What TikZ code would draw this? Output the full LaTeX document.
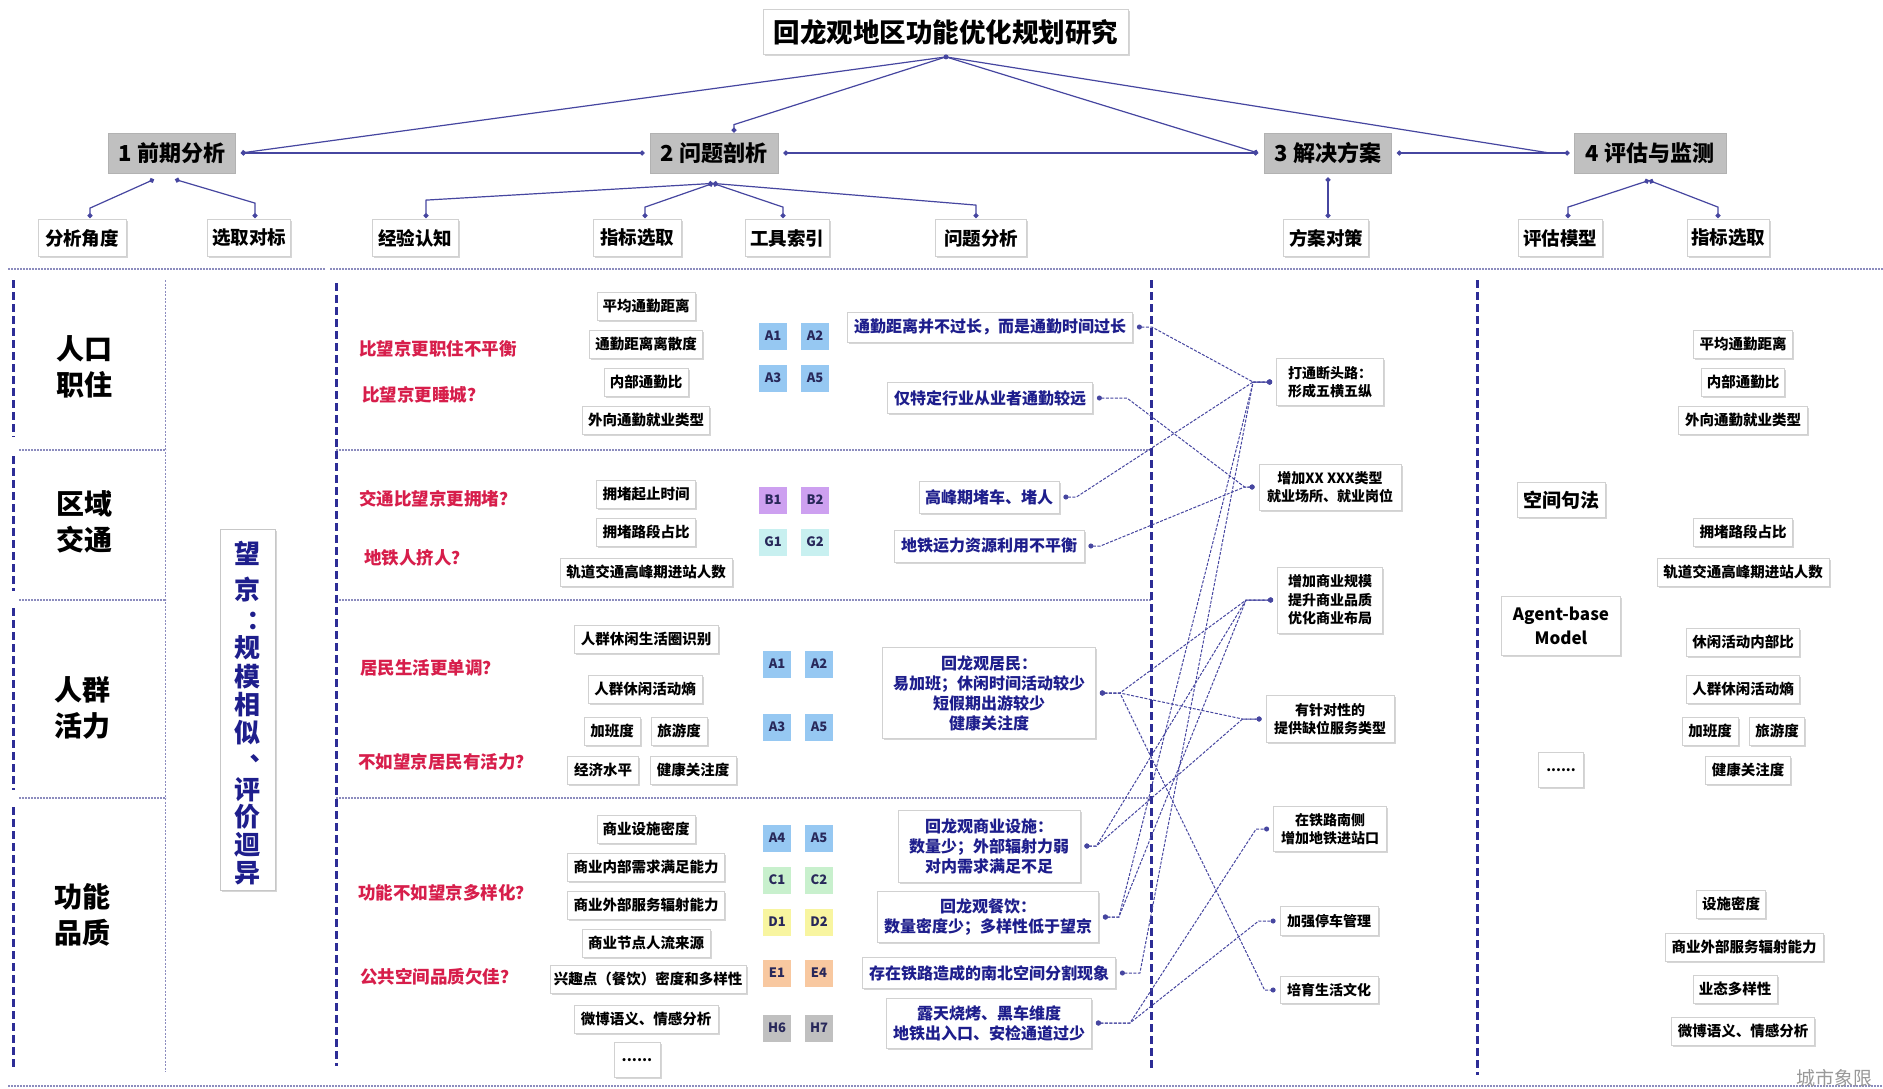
\documentclass[tikz,border=0pt]{standalone}
\usepackage{fontspec}
\setmainfont{Noto Sans CJK SC}
\usetikzlibrary{calc,arrows.meta,shadows}
\definecolor{navy}{RGB}{30,30,140}
\definecolor{tagtxt}{RGB}{40,40,90}
\definecolor{linec}{RGB}{70,70,160}
\definecolor{redq}{RGB}{215,30,75}
\definecolor{gbox}{RGB}{192,192,192}
\definecolor{bdash}{RGB}{45,45,150}
\definecolor{sepc}{RGB}{140,140,190}
\definecolor{tA}{RGB}{150,200,242}
\definecolor{tB}{RGB}{205,160,240}
\definecolor{tG}{RGB}{200,240,240}
\definecolor{tC}{RGB}{200,240,205}
\definecolor{tD}{RGB}{248,245,160}
\definecolor{tE}{RGB}{248,200,160}
\definecolor{tH}{RGB}{192,192,192}
\newcommand\fsz[2]{\fontsize{#1}{#2}\selectfont}
\tikzset{
  sh/.style={general shadow={fill=black!16, shadow xshift=1.5pt, shadow yshift=-1.5pt}},
  wbox/.style={draw=black!18, fill=white, line width=0.8pt, sh, inner sep=0pt, align=center},
  titlebox/.style={wbox, font=\bfseries\fsz{26.5}{30}, minimum width=365pt, minimum height=45pt},
  lvone/.style={draw=black!30, fill=gbox, line width=0.8pt, inner sep=0pt, font=\bfseries\fsz{22}{25}, minimum height=40pt},
  lvtwo/.style={wbox, font=\bfseries\fsz{18.5}{21}, minimum height=37pt},
  ind/.style={wbox, font=\bfseries\fsz{14.5}{17}, minimum height=28pt},
  prob/.style={wbox, text=navy, font=\bfseries\fsz{16}{20}},
  sol/.style={wbox, font=\bfseries\fsz{14}{18.5}},
  tag/.style={fill=#1, minimum width=28pt, minimum height=27pt, inner sep=0pt, font=\bfseries\fsz{13}{15}, text=tagtxt},
  rowlab/.style={font=\bfseries\fsz{28}{36}, align=center},
  redtxt/.style={anchor=west, text=redq, font=\bfseries\fsz{17.5}{20}, inner sep=0pt},
  wjc/.style={text=navy, font=\bfseries\fsz{26}{28}, inner sep=0pt},
  sepline/.style={draw=sepc, line width=1.4pt, dash pattern=on 2pt off 1pt},
  vthin/.style={draw=sepc, line width=1pt, dash pattern=on 2pt off 1.5pt},
  bigdash/.style={draw=bdash, line width=3pt, dash pattern=on 8pt off 4pt},
  topl/.style={draw=linec, line width=1.2pt},
  dots/.style={{Circle[length=5pt]}-{Circle[length=5pt]}},
  dotend/.style={-{Circle[length=5pt]}},
  conn/.style={draw=linec, line width=1pt, dash pattern=on 3pt off 1.5pt, {Circle[length=5pt]}-{Circle[length=5pt]}}
}
\begin{document}
\begin{tikzpicture}[x=1pt,y=-1pt]
\useasboundingbox (0,0) rectangle (1883,1088);
\fill[white] (0,0) rectangle (1883,1088);

% ---------- grid lines ----------
\draw[sepline] (8,269) -- (325,269);
\draw[sepline] (330,269) -- (1883,269);
\draw[sepline] (8,1086) -- (1883,1086);
\foreach \yy in {450,600,798}{
  \draw[sepline] (19,\yy) -- (166,\yy);
  \draw[sepline] (336,\yy) -- (1151,\yy);
}
\draw[vthin] (165,280) -- (165,1072);
\draw[bigdash] (13,280) -- (13,437);
\draw[bigdash] (13,456) -- (13,591);
\draw[bigdash] (13,608) -- (13,790);
\draw[bigdash] (13,807) -- (13,1069);
\draw[bigdash] (336,283) -- (336,1066);
\draw[bigdash] (1151,280) -- (1151,1070);
\draw[bigdash] (1477,280) -- (1477,1075);

% ---------- hierarchy ----------
\node[titlebox] (T) at (946,32) {回龙观地区功能优化规划研究};
\node[lvone, minimum width=127pt] (L1a) at (172,153) {1 前期分析};
\node[lvone, minimum width=128pt] (L1b) at (714,153) {2 问题剖析};
\node[lvone, minimum width=127pt] (L1c) at (1328,153) {3 解决方案};
\node[lvone, minimum width=152pt] (L1d) at (1650,153) {4 评估与监测};

\node[lvtwo, minimum width=88pt] (L2a) at (82,238) {分析角度};
\node[lvtwo, minimum width=83pt] (L2b) at (249,238) {选取对标};
\node[lvtwo, minimum width=86pt] (L2c) at (415,238) {经验认知};
\node[lvtwo, minimum width=88pt] (L2d) at (637,238) {指标选取};
\node[lvtwo, minimum width=84pt] (L2e) at (787,238) {工具索引};
\node[lvtwo, minimum width=91pt] (L2f) at (981,238) {问题分析};
\node[lvtwo, minimum width=85pt] (L2g) at (1326,238) {方案对策};
\node[lvtwo, minimum width=84pt] (L2h) at (1560,238) {评估模型};
\node[lvtwo, minimum width=82pt] (L2i) at (1728,238) {指标选取};

\coordinate (Td) at ($(T.south)+(0,2)$);
\fill[linec] (Td) circle (2.5pt);
\draw[topl, dotend] (Td) -- ($(L1a.east)+(5,0)$);
\draw[topl, dotend] (Td) -- ($(L1b.north)+(20,-8)$) -- ($(L1b.north)+(20,0)$);
\draw[topl, dotend] (Td) -- ($(L1c.west)+(-6,0)$);
\draw[topl] (Td) -- ($(L1d.west)+(-24,0)$);
\draw[topl, dots] ($(L1a.east)+(5,0)$) -- ($(L1b.west)+(-5,0)$);
\draw[topl, dots] ($(L1b.east)+(5,0)$) -- ($(L1c.west)+(-6,0)$);
\draw[topl, dots] ($(L1c.east)+(5,0)$) -- ($(L1d.west)+(-4,0)$);

\draw[topl, dots] ($(L1a.south)+(-18,6)$) -- ($(L2a.north)+(8,-11)$) -- ($(L2a.north)+(8,-1)$);
\draw[topl, dots] ($(L1a.south)+(3,6)$) -- ($(L2b.north)+(6,-16)$) -- ($(L2b.north)+(6,-1)$);
\coordinate (L1bs) at ($(L1b.south)+(-1,10)$);
\draw[topl, dots] (L1bs) -- ($(L2c.north)+(11,-19)$) -- ($(L2c.north)+(11,-1)$);
\draw[topl, dots] (L1bs) -- ($(L2d.north)+(8,-12)$) -- ($(L2d.north)+(8,-1)$);
\draw[topl, dots] (L1bs) -- ($(L2e.north)+(-4,-12)$) -- ($(L2e.north)+(-4,-1)$);
\draw[topl, dots] (L1bs) -- ($(L2f.north)+(-5,-14)$) -- ($(L2f.north)+(-5,-1)$);
\draw[topl, dots] ($(L1c.south)+(0,4)$) -- ($(L2g.north)+(2,-1)$);
\coordinate (L1ds) at ($(L1d.south)+(-1,7)$);
\draw[topl, dots] (L1ds) -- ($(L2h.north)+(8,-12)$) -- ($(L2h.north)+(8,-1)$);
\draw[topl, dots] (L1ds) -- ($(L2i.north)+(-10,-12)$) -- ($(L2i.north)+(-10,-1)$);

% ---------- row labels ----------
\node[rowlab] (R1) at (84,367) {人口\\职住};
\node[rowlab] (R2) at (84,522) {区域\\交通};
\node[rowlab] (R3) at (82,708) {人群\\活力};
\node[rowlab] (R4) at (82,915) {功能\\品质};

% ---------- wangjing column ----------
\node[draw=black!22, fill=white, line width=0.8pt, sh, minimum width=55pt, minimum height=361pt, inner sep=0pt] (WJ) at (247.5,709.5) {};
\foreach \c/\yy [count=\i] in {望/553, 京/590, ︓/622, 规/648, 模/677, 相/705, 似/733, ︑/766, 评/790, 价/817, 迴/845, 异/873}
  \node[wjc] (wj\i) at (247.5,\yy) {\c};

% ---------- questions ----------
\node[redtxt] (Q1) at (359,349) {比望京更职住不平衡};
\node[redtxt] (Q2) at (362,395) {比望京更睡城？};
\node[redtxt] (Q3) at (359,499) {交通比望京更拥堵？};
\node[redtxt] (Q4) at (364,558) {地铁人挤人？};
\node[redtxt] (Q5) at (360,668) {居民生活更单调？};
\node[redtxt] (Q6) at (358,762) {不如望京居民有活力？};
\node[redtxt] (Q7) at (358,893) {功能不如望京多样化？};
\node[redtxt] (Q8) at (360,977) {公共空间品质欠佳？};

% ---------- indicators ----------
\node[ind, minimum width=98pt] (I11) at (646,306) {平均通勤距离};
\node[ind, minimum width=113pt] (I12) at (646,344) {通勤距离离散度};
\node[ind, minimum width=84pt] (I13) at (646,382) {内部通勤比};
\node[ind, minimum width=127pt] (I14) at (646,420) {外向通勤就业类型};
\node[ind, minimum width=99pt] (I21) at (646,494) {拥堵起止时间};
\node[ind, minimum width=99pt] (I22) at (646,532) {拥堵路段占比};
\node[ind, minimum width=172pt] (I23) at (646,572) {轨道交通高峰期进站人数};
\node[ind, minimum width=144pt] (I31) at (646,639) {人群休闲生活圈识别};
\node[ind, minimum width=114pt] (I32) at (645,689) {人群休闲活动熵};
\node[ind, minimum width=56pt] (I33) at (612,731) {加班度};
\node[ind, minimum width=56pt] (I34) at (679,731) {旅游度};
\node[ind, minimum width=71pt] (I35) at (603,770) {经济水平};
\node[ind, minimum width=86pt] (I36) at (693,770) {健康关注度};
\node[ind, minimum width=98pt] (I41) at (646,829) {商业设施密度};
\node[ind, minimum width=157pt] (I42) at (646,867) {商业内部需求满足能力};
\node[ind, minimum width=157pt] (I43) at (646,905) {商业外部服务辐射能力};
\node[ind, minimum width=128pt] (I44) at (646,943) {商业节点人流来源};
\node[ind, minimum width=196pt] (I45) at (648,979) {兴趣点（餐饮）密度和多样性};
\node[ind, minimum width=144pt] (I46) at (646,1019) {微博语义、情感分析};
\node[ind, minimum width=46pt, minimum height=35pt] (I47) at (637,1060) {......};

% ---------- tags ----------
\node[tag=tA] (ta1) at (773,336) {A1};
\node[tag=tA] (ta2) at (815,336) {A2};
\node[tag=tA] (ta3) at (773,378) {A3};
\node[tag=tA] (ta4) at (815,378) {A5};
\node[tag=tB] (tb1) at (773,500) {B1};
\node[tag=tB] (tb2) at (815,500) {B2};
\node[tag=tG] (tb3) at (773,542) {G1};
\node[tag=tG] (tb4) at (815,542) {G2};
\node[tag=tA] (tc1) at (777,664) {A1};
\node[tag=tA] (tc2) at (819,664) {A2};
\node[tag=tA] (tc3) at (777,727) {A3};
\node[tag=tA] (tc4) at (819,727) {A5};
\node[tag=tA] (td1) at (777,838) {A4};
\node[tag=tA] (td2) at (819,838) {A5};
\node[tag=tC] (td3) at (777,880) {C1};
\node[tag=tC] (td4) at (819,880) {C2};
\node[tag=tD] (td5) at (777,922) {D1};
\node[tag=tD] (td6) at (819,922) {D2};
\node[tag=tE] (td7) at (777,973) {E1};
\node[tag=tE] (td8) at (819,973) {E4};
\node[tag=tH] (td9) at (777,1028) {H6};
\node[tag=tH] (td10) at (819,1028) {H7};

% ---------- problems ----------
\node[prob, minimum width=285pt, minimum height=30pt] (P1) at (990,327) {通勤距离并不过长，而是通勤时间过长};
\node[prob, minimum width=205pt, minimum height=31pt] (P2) at (990,398) {仅特定行业从业者通勤较远};
\node[prob, minimum width=140pt, minimum height=32pt] (P3) at (989,497) {高峰期堵车、堵人};
\node[prob, minimum width=190pt, minimum height=32pt] (P4) at (989,546) {地铁运力资源利用不平衡};
\node[prob, minimum width=213pt, minimum height=91pt] (P5) at (989,693) {回龙观居民：\\易加班；休闲时间活动较少\\短假期出游较少\\健康关注度};
\node[prob, minimum width=182pt, minimum height=72pt] (P6) at (989,846) {回龙观商业设施：\\数量少；外部辐射力弱\\对内需求满足不足};
\node[prob, minimum width=221pt, minimum height=51pt] (P7) at (988,917) {回龙观餐饮：\\数量密度少；多样性低于望京};
\node[prob, minimum width=253pt, minimum height=31pt] (P8) at (989,973) {存在铁路造成的南北空间分割现象};
\node[prob, minimum width=205pt, minimum height=50pt] (P9) at (989,1023) {露天烧烤、黑车维度\\地铁出入口、安检通道过少};

% ---------- solutions ----------
\node[sol, minimum width=107pt, minimum height=47pt] (S1) at (1330,382) {打通断头路：\\形成五横五纵};
\node[sol, minimum width=142pt, minimum height=46pt] (S2) at (1330,487) {增加XX XXX类型\\就业场所、就业岗位};
\node[sol, minimum width=105pt, minimum height=66pt] (S3) at (1330,600) {增加商业规模\\提升商业品质\\优化商业布局};
\node[sol, minimum width=128pt, minimum height=47pt] (S4) at (1330,719) {有针对性的\\提供缺位服务类型};
\node[sol, minimum width=113pt, minimum height=45pt] (S5) at (1330,829) {在铁路南侧\\增加地铁进站口};
\node[sol, minimum width=98pt, minimum height=29pt] (S6) at (1329,921) {加强停车管理};
\node[sol, minimum width=98pt, minimum height=27pt] (S7) at (1329,990) {培育生活文化};

% ---------- evaluation ----------
\node[wbox, font=\bfseries\fsz{19}{22}, minimum width=88pt, minimum height=35pt] (E1) at (1561,500) {空间句法};
\node[wbox, font=\bfseries\fsz{17}{24}, minimum width=119pt, minimum height=59pt] (E2) at (1561,626) {Agent-base\\Model};
\node[wbox, font=\bfseries\fsz{14}{17}, minimum width=45pt, minimum height=35pt] (E3) at (1561,770) {......};

\node[ind, minimum width=99pt] (M1) at (1743,344) {平均通勤距离};
\node[ind, minimum width=83pt] (M2) at (1743,382) {内部通勤比};
\node[ind, minimum width=129pt] (M3) at (1743,420) {外向通勤就业类型};
\node[ind, minimum width=99pt] (M4) at (1743,532) {拥堵路段占比};
\node[ind, minimum width=172pt] (M5) at (1743,572) {轨道交通高峰期进站人数};
\node[ind, minimum width=113pt] (M6) at (1743,642) {休闲活动内部比};
\node[ind, minimum width=113pt] (M7) at (1743,689) {人群休闲活动熵};
\node[ind, minimum width=56pt] (M8) at (1710,731) {加班度};
\node[ind, minimum width=55pt] (M9) at (1777,731) {旅游度};
\node[ind, minimum width=85pt] (M10) at (1748,770) {健康关注度};
\node[ind, minimum width=69pt] (M11) at (1731,904) {设施密度};
\node[ind, minimum width=158pt] (M12) at (1744,947) {商业外部服务辐射能力};
\node[ind, minimum width=84pt] (M13) at (1735,989) {业态多样性};
\node[ind, minimum width=143pt] (M14) at (1743,1031) {微博语义、情感分析};

% ---------- connector points ----------
\foreach \p/\k in {P1/15, P2/30, P3/13, P4/12, P5/20, P6/12, P7/16, P8/20, P9/34}{
  \coordinate (\p d) at ($(\p.east)+(4,0)$);
  \coordinate (\p k) at ($(\p.east)+(4+\k,0)$);
}
\foreach \s/\k in {S1/19, S2/10, S3/27, S4/19, S5/13, S6/17, S7/11}{
  \coordinate (\s d) at ($(\s.west)+(-4,0)$);
  \coordinate (\s k) at ($(\s.west)+(-4-\k,0)$);
}
\foreach \p/\s in {P1/S1, P2/S2, P3/S1, P4/S2, P5/S3, P5/S4, P5/S7, P6/S3, P6/S4, P7/S3, P7/S1, P8/S1, P9/S5, P9/S6}
  \draw[conn] (\p d) -- (\p k) -- (\s k) -- (\s d);

% ---------- watermark ----------
\node[anchor=south west, text=black!40, font=\fsz{19}{20}, inner sep=0pt] (WM) at (1796,1087) {城市象限};
\end{tikzpicture}
\end{document}
